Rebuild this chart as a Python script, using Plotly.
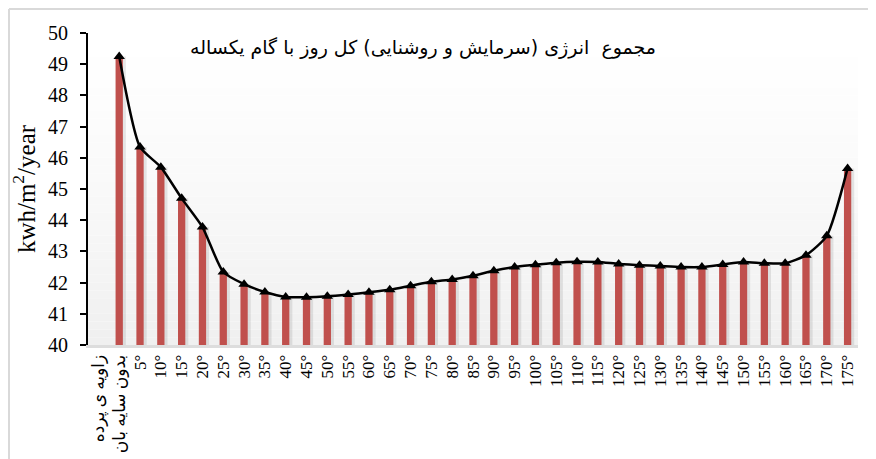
import plotly.graph_objects as go

# ---- data ----
axis_label = "زاویه ی پرده"
no_shade_label = "بدون سایه بان"
angles = [f"{a}°" for a in range(5, 180, 5)]
categories = [axis_label, no_shade_label] + angles
energy = [49.25, 46.35, 45.70, 44.70, 43.78, 42.34, 41.95, 41.70, 41.54,
          41.53, 41.56, 41.62, 41.69, 41.77, 41.90, 42.03, 42.10, 42.22,
          42.38, 42.50, 42.57, 42.64, 42.67, 42.66, 42.60, 42.56, 42.53,
          42.50, 42.50, 42.58, 42.66, 42.62, 42.62, 42.88, 43.50, 45.66]
values = [None] + energy

title_text = "مجموع  انرژی (سرمایش و روشنایی) کل روز با گام یکساله"
y_title = "kwh/m<sup>2</sup>/year"
y_ticks = list(range(40, 51))

serif = "Liberation Serif, Times New Roman, serif"
persian = "DejaVu Sans, sans-serif"

fig = go.Figure()

# soft bar shadow
fig.add_trace(go.Bar(
    x=categories, y=values, width=0.44, offset=-0.12,
    marker=dict(color="rgba(0,0,0,0.09)", line=dict(width=0)),
    hoverinfo="skip", showlegend=False))
# bars
fig.add_trace(go.Bar(
    x=categories, y=values, width=0.35, offset=-0.175,
    marker=dict(color="#C0504D", line=dict(width=0)),
    showlegend=False))
# smoothed line with triangle markers
fig.add_trace(go.Scatter(
    x=categories[1:], y=energy, mode="lines+markers",
    line=dict(color="black", width=2.5, shape="spline", smoothing=0.6),
    marker=dict(symbol="triangle-up", size=10, color="black"),
    showlegend=False))

# plot background gradient (white at top to light grey at bottom)
shapes = []
n = 40
for i in range(n):
    t = i / (n - 1)
    c = int(round(255 - 15 * (1 - t) ** 1.3))
    shapes.append(dict(type="rect", xref="paper", yref="paper",
                       x0=0, x1=1, y0=i / n, y1=(i + 1) / n,
                       fillcolor=f"rgb({c},{c},{c})", line=dict(width=0),
                       layer="below"))
# outer chart border (left & top visible)
shapes.append(dict(type="line", xref="paper", yref="paper",
                   x0=-0.1026, x1=-0.1026, y0=-0.45, y1=1.0769,
                   line=dict(color="#D9D9D9", width=2)))
shapes.append(dict(type="line", xref="paper", yref="paper",
                   x0=-0.1026, x1=1.05, y0=1.0769, y1=1.0769,
                   line=dict(color="#D9D9D9", width=2)))

fig.update_layout(
    width=876, height=459,
    margin=dict(l=80, r=26, t=25, b=122),
    paper_bgcolor="white", plot_bgcolor="rgba(0,0,0,0)",
    barmode="overlay",
    shapes=shapes,
    annotations=[dict(text=title_text, xref="paper", yref="paper",
                      x=0.435, y=0.952, xanchor="center", yanchor="middle",
                      showarrow=False,
                      font=dict(family=persian, size=19, color="black"))],
    xaxis=dict(type="category", categoryorder="array", categoryarray=categories,
               range=[-0.5, len(categories) - 0.5], automargin=False,
               tickangle=-90, showgrid=False, ticks="",
               showline=True, linecolor="#DDDDDD", linewidth=3,
               tickfont=dict(family="Liberation Serif, DejaVu Sans, serif", size=17, color="black")),
    yaxis=dict(range=[40, 50], tickvals=y_ticks, showgrid=False, automargin=False,
               showline=True, linecolor="black", linewidth=2,
               ticks="outside", ticklen=6, tickwidth=2, tickcolor="black",
               ticklabelstandoff=8,
               tickfont=dict(family=serif, size=20, color="black"),
               title=dict(text=y_title, font=dict(family=serif, size=25, color="black"),
                          standoff=16)),
)

fig.write_html("out.html")
